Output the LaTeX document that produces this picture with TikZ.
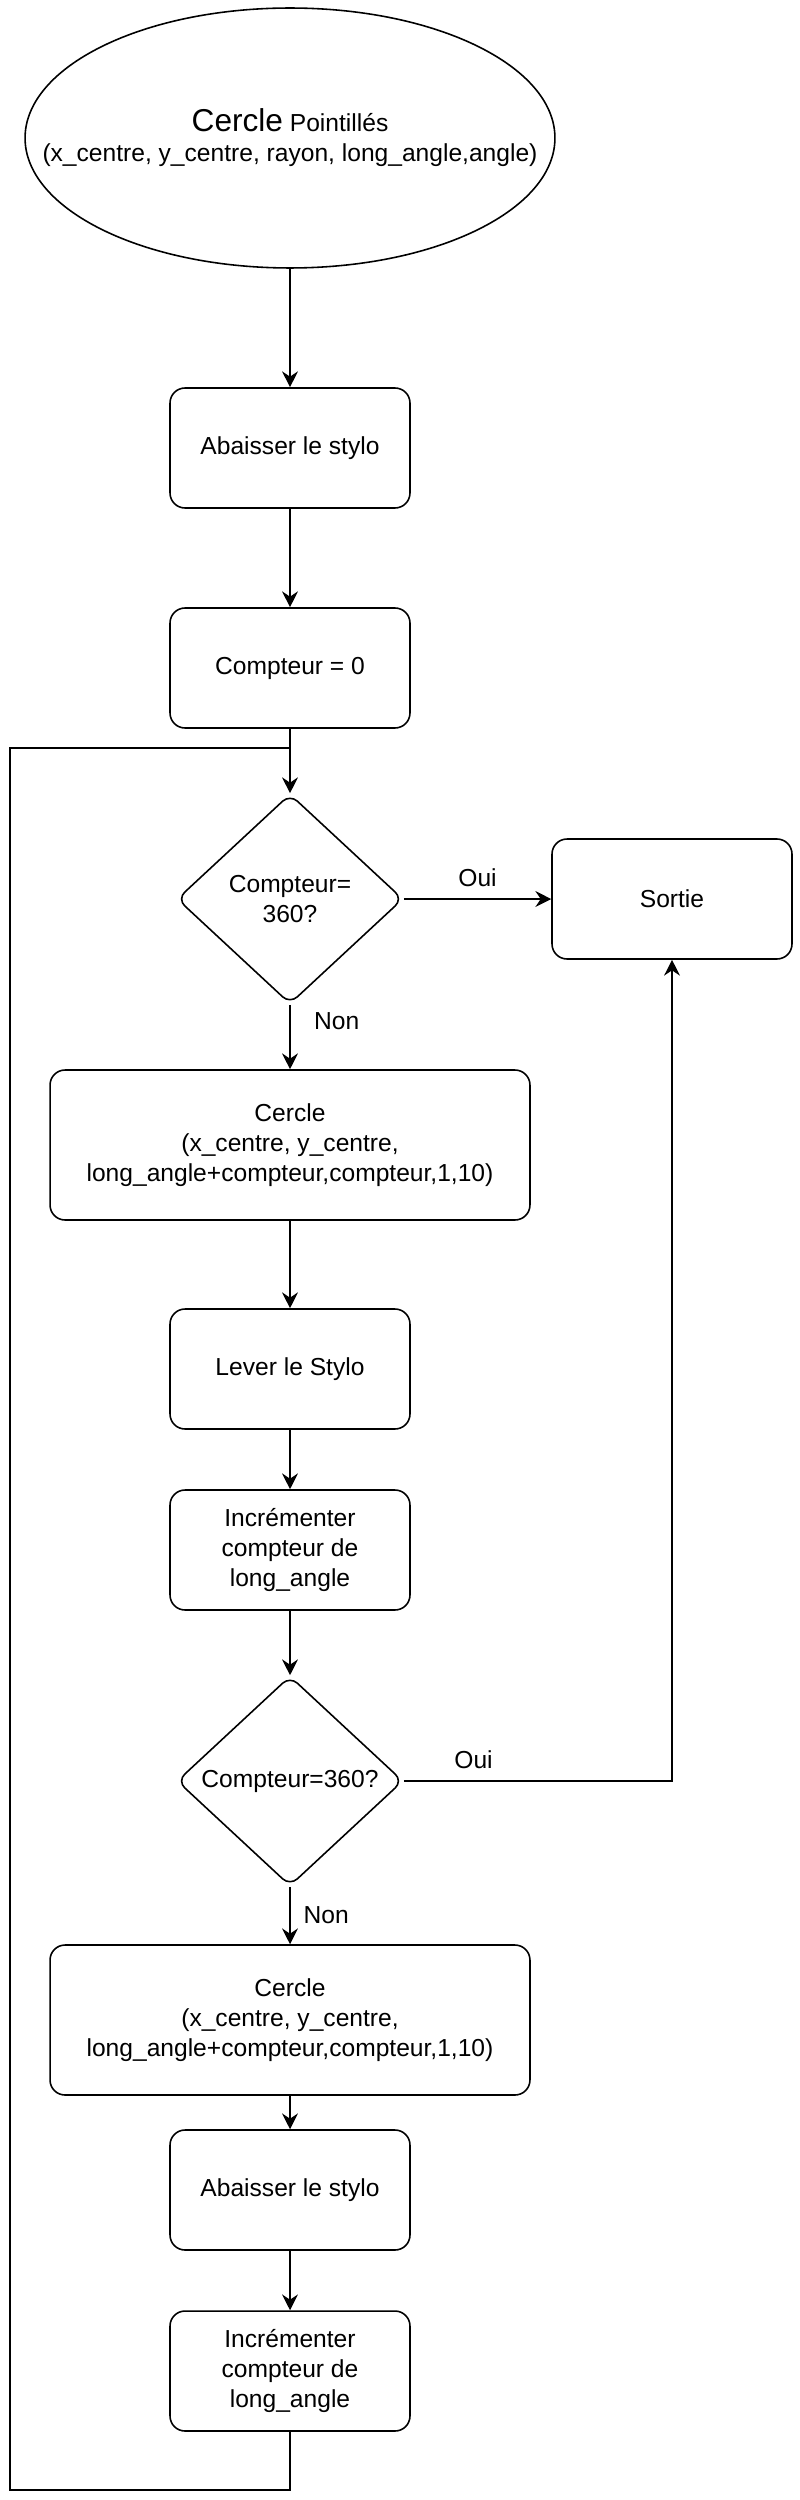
\documentclass[tikz,border=0pt]{standalone}
\usepackage{fontspec}
\setmainfont{Liberation Sans}
\usetikzlibrary{shapes.geometric,arrows.meta}

\begin{document}
\begin{tikzpicture}[x=0.02cm,y=-0.02cm,>={Stealth[length=9pt,width=9pt,inset=3pt]},line width=0.9pt,
    every node/.style={font=\fontsize{14}{17}\selectfont,align=center},
    boite/.style={draw,rounded corners=0.3cm,minimum width=4.8cm,minimum height=2.4cm,inner sep=2pt},
    grande/.style={boite,minimum width=9.6cm,minimum height=3cm},
    test/.style={draw,diamond,rounded corners=0.2cm,minimum width=4.52cm,minimum height=4.2cm,inner sep=0pt}]
                \useasboundingbox (0,0) rectangle (800,2500);

                \node[draw,ellipse,minimum width=10.6cm,minimum height=5.2cm,inner sep=0pt] (debut) at (290,138) {};
                \node (titre) at (debut.center)
                    {{\fontsize{18}{17}\selectfont Cercle} Pointillés\\(x\_centre, y\_centre, rayon, long\_angle,angle)};
                \node[boite] (abaisser) at (290,448) {Abaisser le stylo};
                \node[boite] (init) at (290,668) {Compteur = 0};
                \node[test] (test1) at (290,899) {Compteur=\\360?};
                \node[boite] (sortie) at (672,899) {Sortie};
                \node[grande] (cercle1) at (290,1145) {Cercle\\(x\_centre, y\_centre,\\long\_angle+compteur,compteur,1,10)};
                \node[boite] (lever) at (290,1369) {Lever le Stylo};
                \node[boite] (incr1) at (290,1550) {Incrémenter\\compteur de\\long\_angle};
                \node[test] (test2) at (290,1781) {Compteur=360?};
                \node[grande] (cercle2) at (290,2020) {Cercle\\(x\_centre, y\_centre,\\long\_angle+compteur,compteur,1,10)};
                \node[boite] (abaisser2) at (290,2190) {Abaisser le stylo};
                \node[boite] (incr2) at (290,2371) {Incrémenter\\compteur de\\long\_angle};

                \draw[->] (debut)--(abaisser);
                \draw[->] (abaisser)--(init);
                \draw[->] (init)--(test1);
                \draw[->] (test1)--(sortie) node[midway,above=3pt] {Oui};
                \draw[->] (test1)--(cercle1) node[pos=0.26,right=10pt] {Non};
                \draw[->] (cercle1)--(lever);
                \draw[->] (lever)--(incr1);
                \draw[->] (incr1)--(test2);
                \draw[->] (test2) -| (sortie) node[pos=0.13,above=3pt] {Oui};
                \draw[->] (test2)--(cercle2) node[midway,right=4pt] {Non};
                \draw[->] (cercle2)--(abaisser2);
                \draw[->] (abaisser2)--(incr2);

                % retour au test
                \coordinate (coin) at (10,2490);
                \coordinate (retour) at (290,748);
                \draw (incr2) |- (coin) |- (retour);
            \end{tikzpicture}
\end{document}
